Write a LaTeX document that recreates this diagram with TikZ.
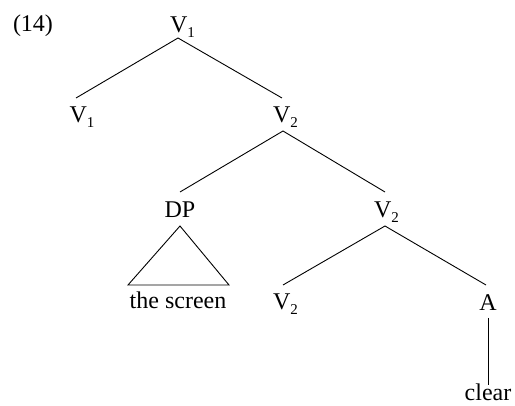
\documentclass[tikz,border=0pt]{standalone}
\usepackage{fontspec}
\setmainfont{Liberation Serif}
\newcommand{\lsub}[1]{\raisebox{-0.4ex}{\fontsize{15}{15}\selectfont #1}}
\begin{document}
\begin{tikzpicture}[x=1pt,y=-1pt,
  lab/.style={inner sep=0pt,anchor=base,font=\fontsize{24}{26}\selectfont},
  edge/.style={line width=0.9pt}]
\useasboundingbox (0,0) rectangle (515,406);
\node[lab] (ex) at (33,32) {(14)};
\node[lab] (v1t) at (182.5,33) {V\lsub{1}};
\node[lab] (v1l) at (82,123) {V\lsub{1}};
\node[lab] (v2a) at (285.5,123) {V\lsub{2}};
\node[lab] (dp) at (180,218) {DP};
\node[lab] (v2b) at (386.5,218) {V\lsub{2}};
\node[lab] (scr) at (178,309) {the screen};
\node[lab] (v2c) at (285.5,310) {V\lsub{2}};
\node[lab] (a) at (488,311) {A};
\node[lab] (clr) at (488,401) {clear};
\coordinate (t1) at (178,38);
\coordinate (b1l) at (76,98);
\coordinate (b1r) at (282,98);
\coordinate (t2) at (283,131);
\coordinate (b2l) at (180,192);
\coordinate (b2r) at (385,192);
\coordinate (tri) at (180,226);
\coordinate (tril) at (128,285);
\coordinate (trir) at (229,285);
\coordinate (t3) at (385,226);
\coordinate (b3l) at (283,285);
\coordinate (b3r) at (486,285);
\coordinate (at) at (488,318);
\coordinate (ab) at (488,385);
\draw[edge] (b1l) -- (t1) -- (b1r);
\draw[edge] (b2l) -- (t2) -- (b2r);
\draw[edge] (tril) -- (tri) -- (trir) -- cycle;
\draw[edge] (b3l) -- (t3) -- (b3r);
\draw[edge] (at) -- (ab);
\end{tikzpicture}
\end{document}
